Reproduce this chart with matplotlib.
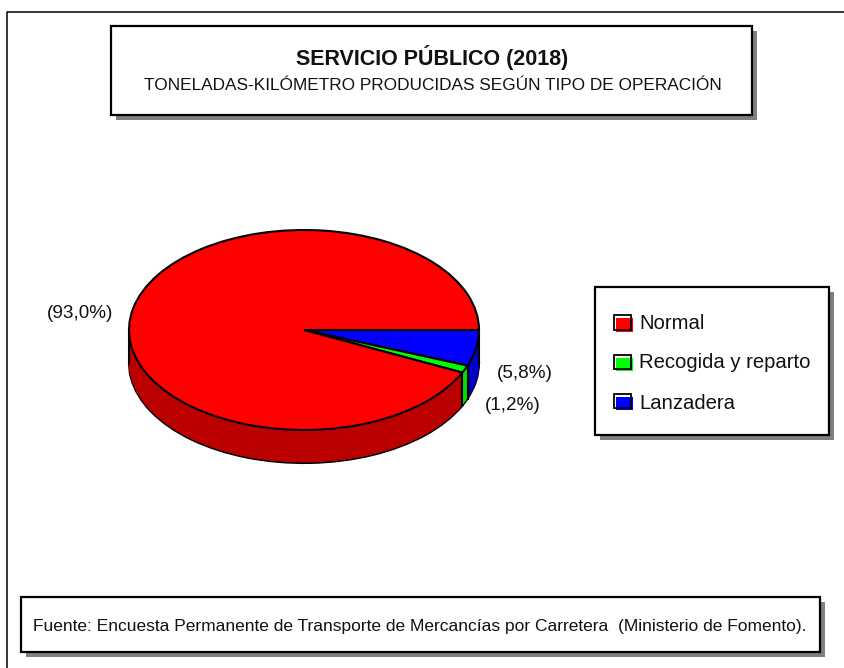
import numpy as np
import matplotlib
matplotlib.use("Agg")
import matplotlib.pyplot as plt
from matplotlib.patches import Rectangle

plt.rcParams['font.family'] = ['Liberation Sans', 'DejaVu Sans']

# Data
categories = ["Lanzadera", "Recogida y reparto", "Normal"]
values = [5.8, 1.2, 93.0]
value_labels = ["(5,8%)", "(1,2%)", "(93,0%)"]
legend_order = ["Normal", "Recogida y reparto", "Lanzadera"]
top_colors = {"Normal": "#ff0000", "Recogida y reparto": "#00ff00", "Lanzadera": "#0000ff"}
side_colors = {"Normal": "#bb0000", "Recogida y reparto": "#00e000", "Lanzadera": "#0000c8"}
title = "SERVICIO PÚBLICO (2018)"
subtitle = "TONELADAS-KILÓMETRO PRODUCIDAS SEGÚN TIPO DE OPERACIÓN"
source = "Fuente: Encuesta Permanente de Transporte de Mercancías por Carretera  (Ministerio de Fomento)."

W, H = 845, 668
fig = plt.figure(figsize=(W / 100, H / 100), dpi=100, facecolor="white")

# overlay in pixel coordinates
bg = fig.add_axes([0, 0, 1, 1])
bg.set_xlim(0, W)
bg.set_ylim(H, 0)
bg.axis("off")

def box(x0, y0, x1, y1, shadow=5):
    bg.add_patch(Rectangle((x0 + shadow, y0 + shadow), x1 - x0, y1 - y0, fc="#808080", ec="none", zorder=1))
    bg.add_patch(Rectangle((x0, y0), x1 - x0, y1 - y0, fc="white", ec="black", lw=1.6, zorder=2))

bg.plot([845, 7, 7], [12, 12, 668], color="black", lw=1.1, zorder=1)
box(111, 26, 752, 115)
box(595, 287, 829, 435)
box(21, 597, 820, 652)

TXT = "#111111"
bg.text(432.5, 58, title, ha="center", va="center", fontsize=15.5, fontweight="bold", color=TXT, zorder=3)
bg.text(432.5, 85, subtitle, ha="center", va="center", fontsize=12.4, color=TXT, zorder=3)
bg.text(420, 626, source, ha="center", va="center", fontsize=12.55, color=TXT, zorder=3)

# legend
for name, yc, yb in zip(legend_order, [322, 361.5, 400.5], [329, 368.5, 409]):
    bg.add_patch(Rectangle((616.5, yc - 4), 17, 13.5, fc=top_colors[name], ec="none", zorder=3))
    bg.add_patch(Rectangle((614, yc - 7), 17.5, 14.5, fc="none", ec="black", lw=1.3, zorder=4))
    bg.text(639, yb, name, ha="left", va="baseline", fontsize=14.6, color=TXT, zorder=3)

# value labels
bg.text(80, 314, value_labels[2], ha="center", va="center", fontsize=13.6, color=TXT, zorder=3)
bg.text(525, 374, value_labels[0], ha="center", va="center", fontsize=13.6, color=TXT, zorder=3)
bg.text(513, 406, value_labels[1], ha="center", va="center", fontsize=13.6, color=TXT, zorder=3)

# pie: axes stretched so the unit circle becomes a 350x200 px ellipse
ax = fig.add_axes([129 / W, 1 - 430 / H, 350 / W, 200 / H])
ax.patch.set_alpha(0)
depth = 0.33
tops = [top_colors[c] for c in categories]
sides = [side_colors[c] for c in categories]
kw = dict(startangle=0, counterclock=False, radius=1)

# bottom outline, then the extruded side, then the top
ax.pie(values, colors=sides, center=(0, -depth),
       wedgeprops=dict(edgecolor="black", linewidth=1.5, clip_on=False), **kw)
for d in np.arange(depth - 0.005, 0, -0.005):
    ax.pie(values, colors=sides, center=(0, -d),
           wedgeprops=dict(edgecolor="none", linewidth=0, clip_on=False), **kw)
# vertical edges at the silhouette and at wedge borders
angles = -np.cumsum(values) / 100 * 2 * np.pi
for a in [0.0, angles[0], angles[1]]:
    x, y = np.cos(a), np.sin(a)
    ax.plot([x, x], [y, y - depth], color="black", lw=1.5, clip_on=False)
ax.plot([-1, -1], [0, -depth], color="black", lw=1.5, clip_on=False)
ax.pie(values, colors=tops, center=(0, 0),
       wedgeprops=dict(edgecolor="black", linewidth=1.5, clip_on=False), **kw)
ax.set_aspect("auto")
ax.set_xlim(-1, 1)
ax.set_ylim(-1, 1)

fig.savefig("out.png", dpi=100)
